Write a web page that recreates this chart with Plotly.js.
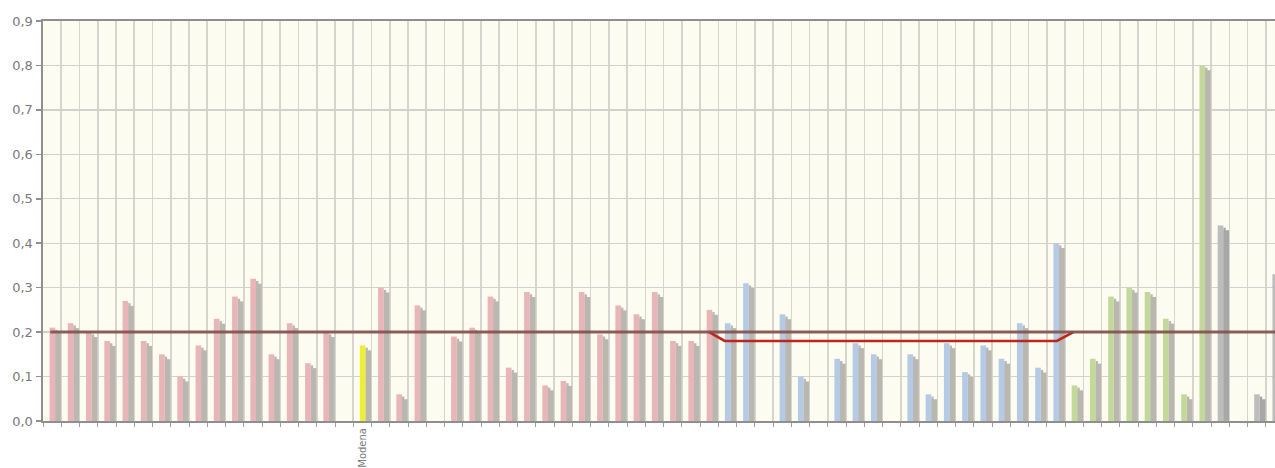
<!DOCTYPE html>
<html><head><meta charset="utf-8">
<script src="https://cdn.plot.ly/plotly-3.0.1.min.js"></script>
<style>html,body{margin:0;padding:0;background:#fff;overflow:hidden}#chart{width:1275px;height:468px}</style>
</head><body><div id="chart"></div>
<script>
// ---- data ----
const values = [0.21,0.22,0.20,0.18,0.27,0.18,0.15,0.10,0.17,0.23,
                0.28,0.32,0.15,0.22,0.13,0.20,null,0.17,0.30,0.06,
                0.26,null,0.19,0.21,0.28,0.12,0.29,0.08,0.09,0.29,
                0.195,0.26,0.24,0.29,0.18,0.18,0.25,0.22,0.31,null,
                0.24,0.10,null,0.14,0.175,0.15,null,0.15,0.06,0.175,
                0.11,0.17,0.14,0.22,0.12,0.40,0.08,0.14,0.28,0.30,
                0.29,0.23,0.06,0.80,0.44,null,0.06,0.33];
const groups = ['p','p','p','p','p','p','p','p','p','p',
                'p','p','p','p','p','p','p','y','p','p',
                'p','p','p','p','p','p','p','p','p','p',
                'p','p','p','p','p','p','p','b','b','b',
                'b','b','b','b','b','b','b','b','b','b',
                'b','b','b','b','b','b','g','g','g','g',
                'g','g','g','g','k','k','k','k'];
const tickLabels = {17: 'Modena'};
const refValue = 0.2;
const blueAvgX = [36, 36.85, 55.05, 55.95];
const blueAvgY = [0.2, 0.18, 0.18, 0.2];

// ---- styling ----
const fill = {p:'#e8b5b8', y:'#eeee3a', b:'#b5cae4', g:'#c3d99c', k:'#bdbdbd'};
const shade = {p:'#b9b7b0', y:'#b9b7b0', b:'#b9b7b0', g:'#b9b7b0', k:'#a7a7a5'};

const idx = values.map((v,i)=>i);
const mainColors = groups.map(g=>fill[g]);
const shadeColors = groups.map(g=>shade[g]);

const shadowB = {type:'bar', x:idx, y:values.map(v=>v==null?null:v-0.011),
  offset:0.17, width:0.31, marker:{color:shadeColors, line:{width:0}}, hoverinfo:'skip', showlegend:false};
const shadowA = {type:'bar', x:idx, y:values.map(v=>v==null?null:v-0.005),
  offset:0.17, width:0.13, marker:{color:shadeColors, line:{width:0}}, hoverinfo:'skip', showlegend:false};
const main = {type:'bar', x:idx, y:values, offset:-0.14, width:0.31,
  marker:{color:mainColors, line:{width:0}}, showlegend:false};
const ref = {type:'scatter', mode:'lines', x:[-0.1, 68], y:[refValue, refValue], xaxis:'x2',
  line:{color:'rgba(130,80,75,0.9)', width:3}, hoverinfo:'skip', showlegend:false};
const avg = {type:'scatter', mode:'lines', x:blueAvgX, y:blueAvgY,
  line:{color:'#c0241c', width:2.6}, hoverinfo:'skip', showlegend:false};

const n = values.length;
const bounds = [];
for (let i=0;i<=n;i++) bounds.push(i-0.5);
const lblVals = Object.keys(tickLabels).map(Number);
const lblText = lblVals.map(k=>tickLabels[k]);
const xr = [-0.5, 67.0];

const layout = {
  width:1275, height:468,
  margin:{l:43, r:0, t:21, b:47, pad:0},
  paper_bgcolor:'#ffffff', plot_bgcolor:'#fdfcf1',
  barmode:'overlay', separators:',.',
  font:{family:'DejaVu Sans, sans-serif', color:'#7a7a7a'},
  xaxis:{range:xr, tickmode:'array', tickvals:bounds, ticktext:bounds.map(()=>''),
    showgrid:true, gridcolor:'#d6d6cf', gridwidth:1.6, zeroline:false,
    ticks:'outside', ticklen:4, tickcolor:'#a0a0a0', tickwidth:1,
    showline:true, linecolor:'#8f8f8f', linewidth:2, mirror:true, fixedrange:true},
  xaxis2:{range:xr, overlaying:'x', anchor:'y', side:'bottom', tickmode:'array',
    tickvals:lblVals, ticktext:lblText, tickangle:-90, showgrid:false, zeroline:false,
    ticks:'', showline:false, tickfont:{size:10, color:'#7a7a7a'}, ticklabelstandoff:4},
  yaxis:{range:[0,0.9], tickmode:'linear', tick0:0, dtick:0.1, tickformat:'.1f',
    showgrid:true, gridcolor:'#d2d2cc', gridwidth:1.4, zeroline:false,
    ticks:'outside', ticklen:5, tickcolor:'#8f8f8f', tickwidth:1.5,
    showline:true, linecolor:'#8f8f8f', linewidth:2.5,
    tickfont:{size:13, color:'#7a7a7a'}, fixedrange:true},
  showlegend:false
};
Plotly.newPlot('chart', [shadowB, shadowA, main, ref, avg], layout, {displayModeBar:false, staticPlot:true});
</script></body></html>
